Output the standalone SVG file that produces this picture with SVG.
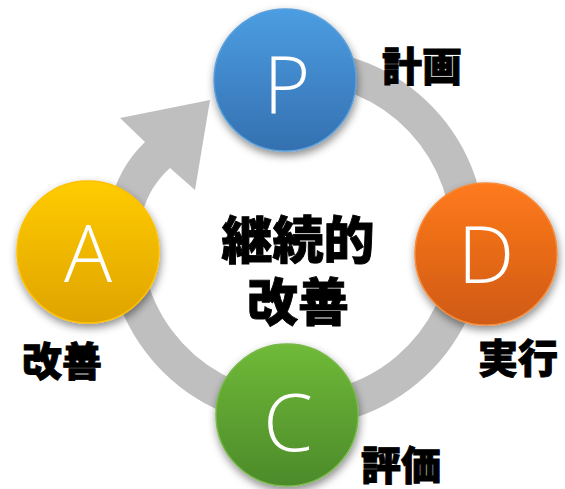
<svg xmlns="http://www.w3.org/2000/svg" width="565" height="489" viewBox="0 0 565 489">
<defs>
<style>
.ring{fill:none;stroke:#BFBFBF;stroke-width:34}
.shaft{fill:#BFBFBF}
.letter{font-family:"Open Sans","Liberation Sans",sans-serif;font-weight:300;font-size:80px;fill:#FFFFFF;text-anchor:middle}
.label{font-family:"Noto Sans CJK JP","Noto Sans CJK SC",sans-serif;font-weight:900;font-size:40px;fill:#000000;stroke:#000000;stroke-width:0.9}
.center{font-family:"Noto Sans CJK JP","Noto Sans CJK SC",sans-serif;font-weight:900;font-size:51px;fill:#000000;stroke:#000000;stroke-width:0.9;text-anchor:middle}
</style>
<filter id="sh" x="-30%" y="-30%" width="160%" height="160%">
<feDropShadow dx="1" dy="4" stdDeviation="4" flood-color="#000000" flood-opacity="0.45"/>
</filter>
<linearGradient id="gP" x1="0" y1="0" x2="0" y2="1"><stop offset="0" stop-color="#4C9DE2"/><stop offset="1" stop-color="#3470B0"/></linearGradient>
<linearGradient id="gD" x1="0" y1="0" x2="0" y2="1"><stop offset="0" stop-color="#FF7A1C"/><stop offset="1" stop-color="#CF5A12"/></linearGradient>
<linearGradient id="gC" x1="0" y1="0" x2="0" y2="1"><stop offset="0" stop-color="#6FBA38"/><stop offset="1" stop-color="#4C8A2A"/></linearGradient>
<linearGradient id="gA" x1="0" y1="0" x2="0" y2="1"><stop offset="0" stop-color="#FFCC00"/><stop offset="1" stop-color="#DFA300"/></linearGradient>
</defs>
<rect width="565" height="489" fill="#FFFFFF"/>
<g id="connectors">
<path class="ring" d="M 296 66 A 172 172 0 1 1 127 208"/>
<path class="shaft" d="M 110 205 Q 118 168 145 142 L 120 118 L 210 100 L 195 190 L 170 168 Q 150 186 143 211 Z"/>
</g>
<g id="nodeP">
<circle cx="285" cy="80" r="71" fill="url(#gP)" stroke="#5AA0DC" stroke-width="1.5" filter="url(#sh)"/>
<text class="letter" x="287" y="113">P</text>
</g>
<g id="nodeD">
<circle cx="486" cy="254" r="71" fill="url(#gD)" stroke="#F58A3A" stroke-width="1.5" filter="url(#sh)"/>
<text class="letter" x="486" y="283">D</text>
</g>
<g id="nodeC">
<circle cx="287" cy="415" r="71" fill="url(#gC)" stroke="#77B84A" stroke-width="1.5" filter="url(#sh)"/>
<text class="letter" x="288" y="451">C</text>
</g>
<g id="nodeA">
<circle cx="88" cy="252" r="71" fill="url(#gA)" stroke="#FFC000" stroke-width="1.5" filter="url(#sh)"/>
<text class="letter" x="88" y="282">A</text>
</g>
<g id="labels">
<text class="label" x="382" y="81">計画</text>
<text class="label" x="478" y="373">実行</text>
<text class="label" x="361" y="480">評価</text>
<text class="label" x="22" y="376">改善</text>
</g>
<g id="centerText">
<text class="center" x="298" y="259">継続的</text>
<text class="center" x="298" y="321">改善</text>
</g>
</svg>
